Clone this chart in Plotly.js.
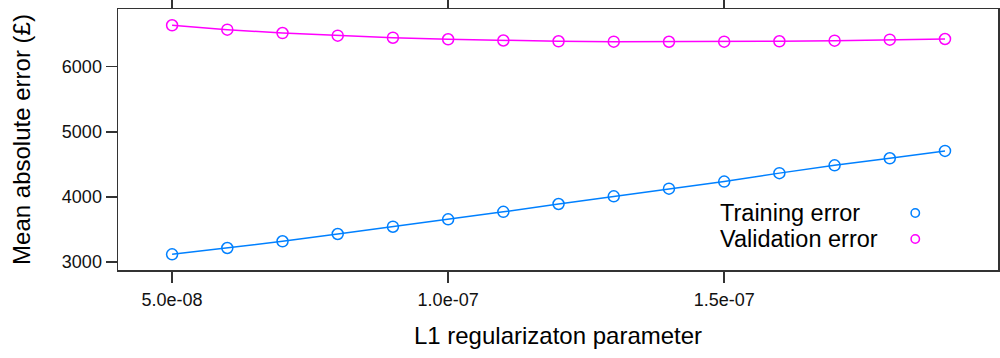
<!DOCTYPE html>
<html>
<head>
<meta charset="utf-8">
<script src="https://cdn.plot.ly/plotly-3.0.1.min.js"></script>
<style>html,body{margin:0;padding:0;background:#fff;}#chart{width:1000px;height:358px;}</style>
</head>
<body>
<div id="chart"></div>
<script>
const lambdaValues = [5e-8, 6e-8, 7e-8, 8e-8, 9e-8, 1e-7, 1.1e-7, 1.2e-7, 1.3e-7, 1.4e-7, 1.5e-7, 1.6e-7, 1.7e-7, 1.8e-7, 1.9e-7];
const trainingError = [3118, 3215, 3318, 3430, 3542, 3655, 3770, 3891, 4009, 4126, 4235, 4365, 4485, 4593, 4706];
const validationError = [6636, 6568, 6517, 6476, 6445, 6421, 6402, 6390, 6384, 6383, 6384, 6390, 6400, 6415, 6425];
const seriesNames = ["Training error", "Validation error"];
const seriesColors = ["#0080ff", "#ff00ff"];
const xTickValues = [5e-8, 1e-7, 1.5e-7];
const xTickLabels = ["5.0e-08", "1.0e-07", "1.5e-07"];
const yTickValues = [3000, 4000, 5000, 6000];

const font = "Liberation Sans, Arial, Helvetica, sans-serif";
const mk = (x, y, name, color) => ({
  x: x, y: y, name: name, type: "scatter", mode: "lines+markers",
  line: {color: color, width: 1.5},
  marker: {symbol: "circle-open", size: 11, color: color, line: {width: 1.5, color: color}},
  showlegend: false, cliponaxis: false
});

const data = [
  mk(lambdaValues, trainingError, seriesNames[0], seriesColors[0]),
  mk(lambdaValues, validationError, seriesNames[1], seriesColors[1])
];

const legendY = [0.2184, 0.1188];
const annotations = seriesNames.map((n, i) => ({
  xref: "paper", yref: "paper", x: 0.682, y: legendY[i], xanchor: "left", yanchor: "middle",
  text: n, showarrow: false, font: {family: font, size: 23.5, color: "#000"}
}));
const shapes = seriesNames.map((n, i) => ({
  type: "circle", xref: "paper", yref: "paper", xsizemode: "pixel", ysizemode: "pixel",
  xanchor: 0.906, yanchor: legendY[i], x0: -4.2, x1: 4.2, y0: -4.2, y1: 4.2,
  line: {color: seriesColors[i], width: 1.5}
}));

const layout = {
  width: 1000, height: 358,
  margin: {l: 118, r: 2, t: 9, b: 88},
  paper_bgcolor: "#fff", plot_bgcolor: "#fff",
  font: {family: font, color: "#000"},
  xaxis: {
    range: [4.02e-8, 1.996e-7], tickvals: xTickValues, ticktext: xTickLabels,
    showgrid: false, zeroline: false, showline: true, mirror: "ticks",
    linecolor: "#333", linewidth: 1.5, ticks: "outside", ticklen: 11, tickwidth: 1.5, tickcolor: "#333",
    tickfont: {family: font, size: 18, color: "#111"}, ticklabelstandoff: 2,
    title: {text: "L1 regularizaton parameter", font: {family: font, size: 24, color: "#000"}, standoff: 18}
  },
  yaxis: {
    range: [2877, 6886], tickvals: yTickValues,
    showgrid: false, zeroline: false, showline: true, mirror: "ticks",
    linecolor: "#333", linewidth: 1.5, ticks: "outside", ticklen: 11, tickwidth: 1.5, tickcolor: "#333",
    tickfont: {family: font, size: 18, color: "#111"},
    title: {text: "Mean absolute error (£)", font: {family: font, size: 24, color: "#000"}, standoff: 24}
  },
  annotations: annotations,
  shapes: shapes,
  showlegend: false
};

Plotly.newPlot("chart", data, layout, {displayModeBar: false, staticPlot: true});
</script>
</body>
</html>
